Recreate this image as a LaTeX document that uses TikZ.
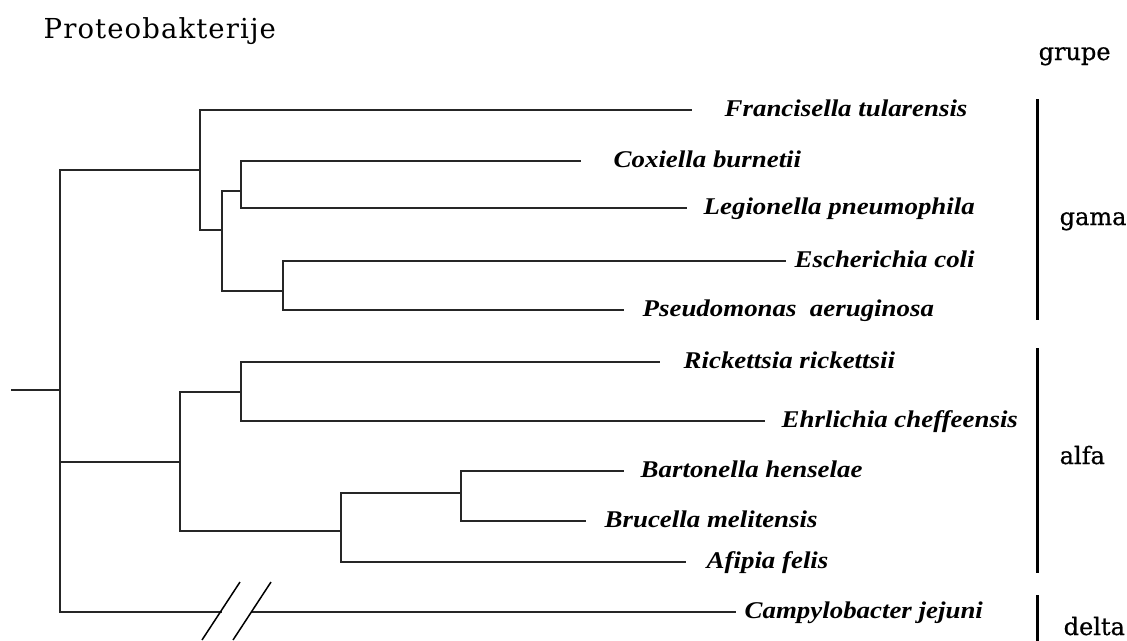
\documentclass[tikz,border=0pt]{standalone}
\usepackage{fontspec}
\setmainfont{DejaVu Serif}
\newfontfamily\spfont{Liberation Serif}[FakeStretch=1.12]
\newfontfamily\titlefont{DejaVu Serif}[LetterSpace=4]
\newfontfamily\grpfont{DejaVu Serif}[FakeBold=0.6]
\usepackage{tikz}
\usetikzlibrary{positioning}

\begin{document}
\begin{tikzpicture}[x=1pt,y=-1pt,line width=1.4pt,
    branch/.style={draw=black!85,line cap=rect},
    slash/.style={draw=black,line width=1.5pt},
    grpbar/.style={draw=black,line width=3pt},
    species/.style={anchor=base west,inner sep=0pt,font=\spfont\bfseries\itshape\fontsize{24}{27}\selectfont},
    grp/.style={anchor=base west,inner sep=0pt,font=\grpfont\fontsize{24}{28}\selectfont}]
  \useasboundingbox[fill=white] (0,0) rectangle (1127,640);
  \node[anchor=base west,inner sep=0pt,font=\titlefont\fontsize{27.5}{30}\selectfont] (title) at (43,38) {Proteobakterije};

  % inner nodes of the tree
  \coordinate (r0) at (12,390);
  \coordinate (n0) at (60,390);
  \coordinate (gam) at (200,170);
  \coordinate (gam2) at (222,230);
  \coordinate (leg) at (241,191);
  \coordinate (ent) at (283,291);
  \coordinate (alf) at (180,462);
  \coordinate (ric) at (241,392);
  \coordinate (rhi) at (341,531);
  \coordinate (bru) at (461,493);
  \coordinate (cut1) at (221,612);
  \coordinate (cut2) at (252,612);

  % ends of the leaves
  \coordinate (eFra) at (691,110);
  \coordinate (eCox) at (580,161);
  \coordinate (eLeg) at (686,208);
  \coordinate (eEsc) at (785,261);
  \coordinate (ePse) at (623,310);
  \coordinate (eRic) at (659,362);
  \coordinate (eEhr) at (764,421);
  \coordinate (eBar) at (623,471);
  \coordinate (eBru) at (585,521);
  \coordinate (eAfi) at (685,562);
  \coordinate (eCam) at (735,612);

  \draw[branch] (r0) -- (n0);
  \draw[branch] (n0) |- (gam);
  \draw[branch] (n0) |- (alf);
  \draw[branch] (n0) |- (cut1);
  \draw[branch] (cut2) -- (eCam);
  \draw[branch] (gam) |- (eFra);
  \draw[branch] (gam) |- (gam2);
  \draw[branch] (gam2) |- (leg);
  \draw[branch] (gam2) |- (ent);
  \draw[branch] (leg) |- (eCox);
  \draw[branch] (leg) |- (eLeg);
  \draw[branch] (ent) |- (eEsc);
  \draw[branch] (ent) |- (ePse);
  \draw[branch] (alf) |- (ric);
  \draw[branch] (alf) |- (rhi);
  \draw[branch] (ric) |- (eRic);
  \draw[branch] (ric) |- (eEhr);
  \draw[branch] (rhi) |- (bru);
  \draw[branch] (rhi) |- (eAfi);
  \draw[branch] (bru) |- (eBar);
  \draw[branch] (bru) |- (eBru);
  \draw[slash] (cut1) ++(19,-30) -- ++(-38,58);
  \draw[slash] (cut2) ++(19,-30) -- ++(-38,58);

  \node[species] (lFra) at (724,116) {Francisella tularensis};
  \node[species] (lCox) at (613,167) {Coxiella burnetii};
  \node[species] (lLeg) at (703,214) {Legionella pneumophila};
  \node[species] (lEsc) at (794,267) {Escherichia coli};
  \node[species] (lPse) at (642,316) {Pseudomonas~ aeruginosa};
  \node[species] (lRic) at (683,368) {Rickettsia rickettsii};
  \node[species] (lEhr) at (781,427) {Ehrlichia cheffeensis};
  \node[species] (lBar) at (640,477) {Bartonella henselae};
  \node[species] (lBru) at (604,527) {Brucella melitensis};
  \node[species] (lAfi) at (706,568) {Afipia felis};
  \node[species] (lCam) at (744,618) {Campylobacter jejuni};

  % groups
  \coordinate (gTop) at (1037,99);
  \coordinate (gBot) at (1037,320);
  \coordinate (aTop) at (1037,348);
  \coordinate (aBot) at (1037,573);
  \coordinate (dTop) at (1037,595);
  \coordinate (dBot) at (1037,642);
  \draw[grpbar] (gTop) -- (gBot);
  \draw[grpbar] (aTop) -- (aBot);
  \draw[grpbar] (dTop) -- (dBot);
  \node[grp] (grupe) at (1038,60) {grupe};
  \node[grp] (gama) at (1059,225) {gama};
  \node[grp] (alfa) at (1059,464) {alfa};
  \node[grp] (delta) at (1063,635) {delta};
\end{tikzpicture}
\end{document}
